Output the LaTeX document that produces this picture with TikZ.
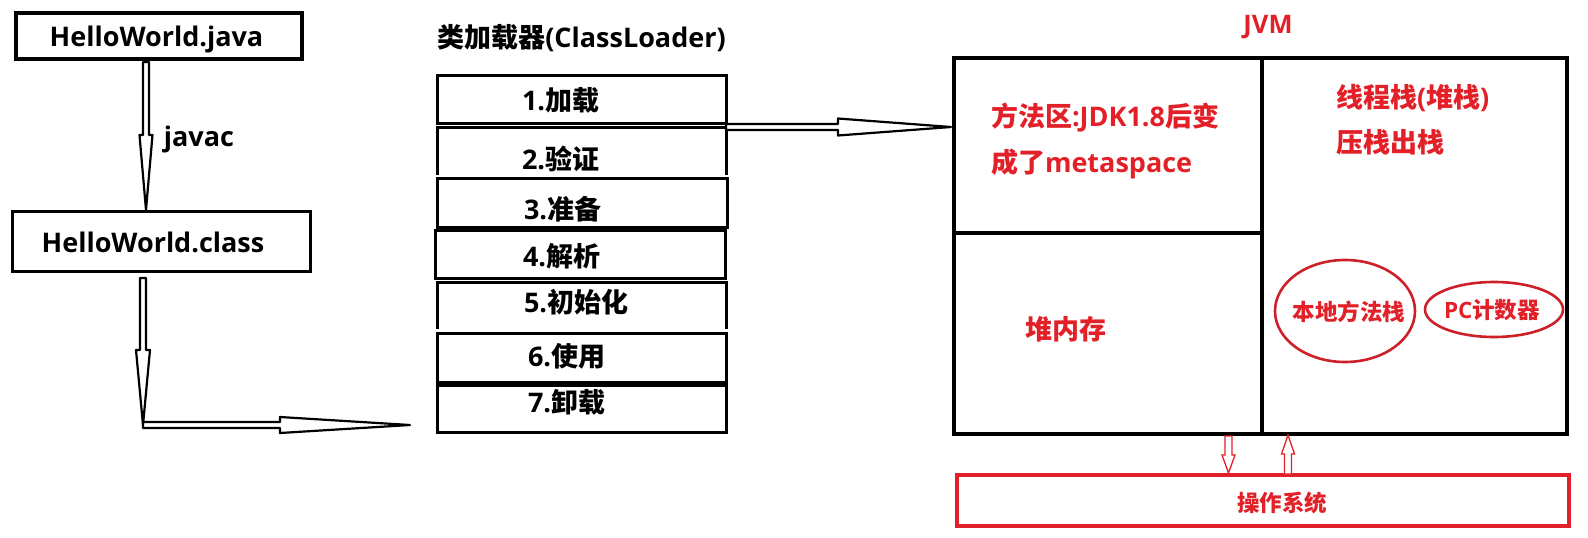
\documentclass[tikz,border=0pt]{standalone}
\usepackage{fontspec}
\setmainfont{Open Sans}
\newfontfamily\cjk{Noto Sans CJK SC}
\usetikzlibrary{calc,shapes.geometric}
\definecolor{jred}{RGB}{226,32,40}
\definecolor{ered}{RGB}{205,32,40}
\newcommand\zh[1]{{\cjk #1}}
% hollow needle arrow: [style]{from}{to}{head length}{shaft half width}{head half width}
\newcommand\hollowarrow[6][]{%
  \path (#2) coordinate (ha-s) (#3) coordinate (ha-e);
  \path ($(ha-e)!#4!(ha-s)$) coordinate (ha-b);
  \draw[#1] ($(ha-s)!#5!90:(ha-e)$) -- ($(ha-b)!#5!-90:(ha-s)$) -- ($(ha-b)!#6!-90:(ha-s)$)
     -- (ha-e) -- ($(ha-b)!#6!90:(ha-s)$) -- ($(ha-b)!#5!90:(ha-s)$) -- ($(ha-s)!#5!-90:(ha-e)$) -- cycle;
}
\begin{document}
\begin{tikzpicture}[x=1pt,y=-1pt,
  every node/.style={inner sep=0pt,outer sep=0pt},
  box/.style={draw,line width=3pt,anchor=north west},
  plainbox/.style={anchor=north west},
  big/.style={font=\fontsize{27}{30}\selectfont\bfseries},
  mid/.style={font=\fontsize{25.5}{30}\selectfont\bfseries},
  small/.style={font=\fontsize{22.5}{26}\selectfont\bfseries},
  redtxt/.style={text=jred},
  blackarrow/.style={draw=black,fill=white,line width=2.2pt,line join=round},
  redarrow/.style={draw=jred,fill=white,line width=1.3pt,line join=miter},
  ell/.style={ellipse,draw=ered,line width=2.6pt}]
\useasboundingbox (0,0) rectangle (1588,538);

% ---------- left column ----------
\node[box,line width=4.5pt,minimum width=286pt,minimum height=46pt] (java) at (16,13) {};
\node[big,anchor=base] (javaT) at (156.5,46) {HelloWorld.java};
\node[box,minimum width=298pt,minimum height=60pt] (class) at (12,211) {};
\node[big,anchor=base] (classT) at (153,252) {HelloWorld.class};
\node[big,anchor=base] (javac) at (199,146) {javac};
\coordinate (bend) at (143,425);
\coordinate (tipL) at (410,425);

% ---------- class loader ----------
\node[big,anchor=base] (clT) at (581.5,47) {\zh{类加载器}(ClassLoader)};
\node[box,minimum width=289pt,minimum height=48pt] (s1) at (437,75) {};
\node[plainbox,minimum width=289pt,minimum height=48pt] (s2) at (437,127) {};
\draw[line width=3pt] (s2.south west) -- (s2.north west) -- (s2.north east) -- (s2.south east);
\node[box,minimum width=290pt,minimum height=49pt] (s3) at (437,178) {};
\node[box,minimum width=290pt,minimum height=48pt] (s4) at (435,230) {};
\node[plainbox,minimum width=289pt,minimum height=47pt] (s5) at (437,282) {};
\draw[line width=3pt] (s5.south west) -- (s5.north west) -- (s5.north east) -- (s5.south east);
\node[box,minimum width=289pt,minimum height=49pt] (s6) at (437,333) {};
\node[box,minimum width=289pt,minimum height=47pt] (s7) at (437,385) {};
\node[big,anchor=base west] (t1) at (522,110.5) {1.\zh{加载}};
\node[big,anchor=base west] (t2) at (522,169.5) {2.\zh{验证}};
\node[big,anchor=base west] (t3) at (524,219.5) {3.\zh{准备}};
\node[big,anchor=base west] (t4) at (523,266.5) {4.\zh{解析}};
\node[big,anchor=base west] (t5) at (524,312.5) {5.\zh{初始化}};
\node[big,anchor=base west] (t6) at (528,366.5) {6.\zh{使用}};
\node[big,anchor=base west] (t7) at (528,412.5) {7.\zh{卸载}};

% ---------- JVM ----------
\node[mid,redtxt,anchor=base] (jvmT) at (1268,33) {JVM};
\node[box,line width=3.5pt,minimum width=308pt,minimum height=175pt] (meth) at (954,58) {};
\node[box,line width=3.5pt,minimum width=308pt,minimum height=201pt] (heap) at (954,233) {};
\node[box,line width=3.5pt,minimum width=305pt,minimum height=376pt] (thr) at (1262,58) {};
\node[big,redtxt,anchor=base west] (m1) at (991,126) {\zh{方法区}:JDK1.8\zh{后变}};
\node[big,redtxt,anchor=base west] (m2) at (991,172) {\zh{成了}metaspace};
\node[big,redtxt,anchor=base west] (h1) at (1025,339) {\zh{堆内存}};
\node[big,redtxt,anchor=base west] (th1) at (1336,107) {\zh{线程栈}(\zh{堆栈})};
\node[big,redtxt,anchor=base west] (th2) at (1336,152) {\zh{压栈出栈}};
\node[ell,minimum width=140pt,minimum height=102pt] (nms) at (1345,311) {};
\node[small,redtxt] (nmsT) at (1349,312) {\zh{本地方法栈}};
\node[ell,minimum width=138pt,minimum height=55pt] (pc) at (1494,309.5) {};
\node[small,redtxt] (pcT) at (1492,310) {PC\zh{计数器}};

% ---------- OS ----------
\node[box,draw=jred,line width=3.5pt,minimum width=612pt,minimum height=51pt] (os) at (957,475) {};
\node[small,redtxt] (osT) at (1282,503) {\zh{操作系统}};
\coordinate (dx) at (1228.5,0);
\coordinate (ux) at (1288,0);

% ---------- connectors ----------
\hollowarrow[blackarrow]{[xshift=-13pt,yshift=-3pt]java.south}{[xshift=-15pt,yshift=1pt]class.north}{75pt}{3pt}{6.5pt}
\hollowarrow[blackarrow]{[xshift=-18pt,yshift=-7pt]class.south}{bend}{75pt}{3pt}{7pt}
\hollowarrow[blackarrow]{bend}{tipL}{130pt}{3pt}{8pt}
\hollowarrow[blackarrow]{s2.north east}{[xshift=-3pt]meth.west |- s2.north east}{113pt}{3pt}{8.5pt}
\hollowarrow[redarrow]{[yshift=-2pt]heap.south -| dx}{[yshift=2pt]os.north -| dx}{18pt}{3.5pt}{6.5pt}
\hollowarrow[redarrow]{[yshift=1pt]os.north -| ux}{[yshift=-1pt]thr.south -| ux}{19pt}{3.5pt}{6.5pt}
\end{tikzpicture}
\end{document}
